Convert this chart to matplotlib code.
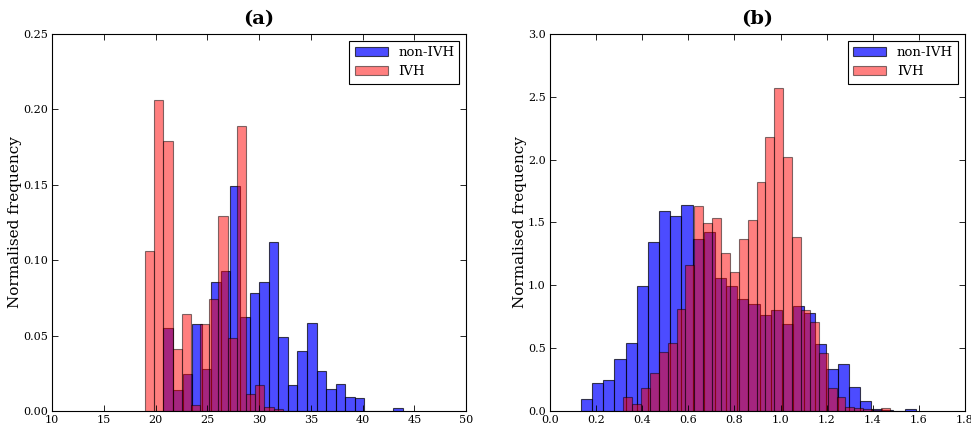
import numpy as np
import matplotlib
matplotlib.use("Agg")
import matplotlib.pyplot as plt

plt.rcParams['font.family'] = 'DejaVu Serif'
plt.rcParams['xtick.direction'] = 'in'
plt.rcParams['ytick.direction'] = 'in'
plt.rcParams['xtick.top'] = True
plt.rcParams['ytick.right'] = True

# (a) histogram bins and normalised heights
a_blue_start, a_blue_stop = 20.757, 43.88
a_blue = [0.0553, 0.0138, 0.0242, 0.058, 0.028, 0.0854, 0.0929, 0.1494, 0.0624,
          0.0783, 0.0856, 0.1119, 0.0489, 0.0174, 0.0396, 0.0582, 0.0266, 0.0147,
          0.0176, 0.0094, 0.0087, 0.0, 0.0, 0.0, 0.0017]
a_red_start, a_red_stop = 18.986, 32.287
a_red = [0.106, 0.206, 0.179, 0.041, 0.064, 0.004, 0.058, 0.074, 0.129, 0.0485,
         0.189, 0.0114, 0.0174, 0.0025, 0.0015]

# (b) histogram bins and normalised heights
b_blue_start, b_blue_stop = 0.1345, 1.5865
b_blue = [0.095, 0.225, 0.247, 0.411, 0.539, 0.995, 1.342, 1.591, 1.552, 1.639,
          1.366, 1.427, 1.061, 0.995, 0.889, 0.849, 0.764, 0.804, 0.69, 0.836,
          0.777, 0.531, 0.332, 0.371, 0.194, 0.08, 0.016, 0.008, 0.0, 0.012]
b_red_start, b_red_stop = 0.318, 1.474
b_red = [0.109, 0.053, 0.183, 0.3, 0.467, 0.541, 0.809, 1.159, 1.634, 1.498,
         1.538, 1.255, 1.108, 1.369, 1.52, 1.82, 2.178, 2.573, 2.024, 1.387,
         0.804, 0.711, 0.459, 0.18, 0.109, 0.029, 0.02, 0.012, 0.006, 0.02]


def draw_hist(ax, start, stop, heights, color, alpha, label):
    edges = np.linspace(start, stop, len(heights) + 1)
    ax.bar(edges[:-1], heights, width=np.diff(edges), align='edge',
           color=color, edgecolor='k', linewidth=0.8, alpha=alpha, label=label)


fig = plt.figure(figsize=(9.71, 4.25), dpi=100)
ax1 = fig.add_axes([0.0536, 0.033, 0.4264, 0.887])
ax2 = fig.add_axes([0.5664, 0.033, 0.4274, 0.887])

draw_hist(ax1, a_blue_start, a_blue_stop, a_blue, 'b', 0.7, 'non-IVH')
draw_hist(ax1, a_red_start, a_red_stop, a_red, 'r', 0.5, 'IVH')
ax1.set_xlim(10, 50)
ax1.set_ylim(0, 0.25)
ax1.set_yticks(np.arange(0, 0.2501, 0.05))
ax1.set_yticklabels(['%.2f' % v for v in np.arange(0, 0.2501, 0.05)])

draw_hist(ax2, b_blue_start, b_blue_stop, b_blue, 'b', 0.7, 'non-IVH')
draw_hist(ax2, b_red_start, b_red_stop, b_red, 'r', 0.5, 'IVH')
ax2.set_xlim(0, 1.8)
ax2.set_ylim(0, 3.0)
ax2.set_yticks(np.arange(0, 3.01, 0.5))

for ax, title in [(ax1, '(a)'), (ax2, '(b)')]:
    ax.set_title(title, fontsize=14, fontweight='bold', pad=7)
    ax.set_ylabel('Normalised frequency', fontsize=11, labelpad=1)
    ax.tick_params(labelsize=8, length=4, width=0.6, pad=3)
    ax.legend(loc='upper right', fontsize=9.5, fancybox=False, edgecolor='k',
              framealpha=1, borderaxespad=0.5, handlelength=2.5)
    ax.legend_.get_frame().set_linewidth(0.8)

fig.savefig('out.png', dpi=100)
